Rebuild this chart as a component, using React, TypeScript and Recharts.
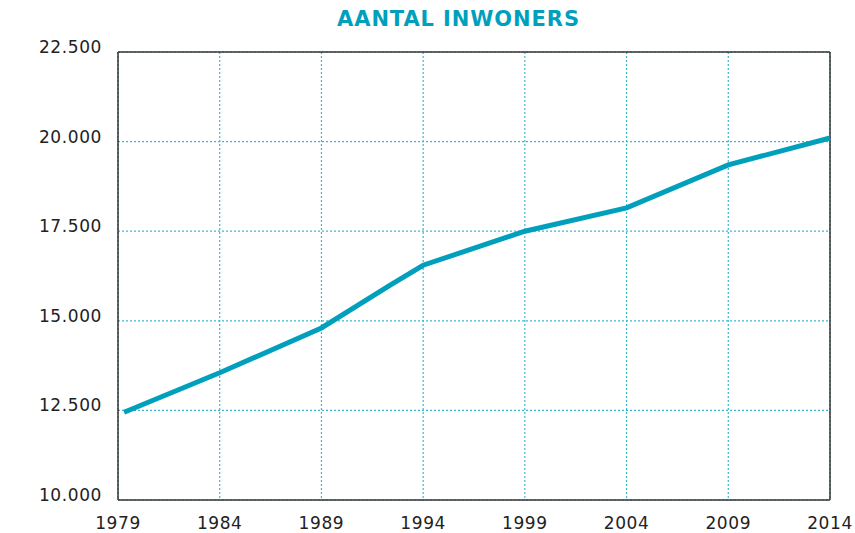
import React from "react";
import {
    LineChart,
    Line,
    XAxis,
    YAxis,
    CartesianGrid,
    ReferenceLine,
} from "recharts";

// jaren + aantal inwoners
const years = [1979.3, 1984, 1989, 1992.4, 1994, 1999, 2004, 2009, 2014];
const inhabitants = [12450, 13550, 14800, 16000, 16550, 17500, 18150, 19350, 20100];

const xTicks = [1979, 1984, 1989, 1994, 1999, 2004, 2009, 2014];
const yTicks = [10000, 12500, 15000, 17500, 20000, 22500];

const data = years.map((year, i) => ({ year, value: inhabitants[i] }));

const TEAL = "#00A0BD";
const GRID = "#3DB7CF";
const AXIS = "#333333";
const TITLE_FONT = "'DejaVu Sans', sans-serif";
const TICK_FONT = "'DejaVu Sans', sans-serif";

const formatThousands = (v: number) =>
    v.toLocaleString("nl-NL", { minimumFractionDigits: 0 }).replace(",", ".");

const App: React.FC = () => {
    return (
        <div style={{ position: "absolute", left: 0, top: 0, width: 855, height: 533, background: "#fff" }}>
            <div
                style={{
                    position: "absolute",
                    left: 0,
                    width: 855,
                    top: 7,
                    paddingLeft: 62,
                    boxSizing: "border-box",
                    textAlign: "center",
                    fontFamily: TITLE_FONT,
                    fontWeight: 700,
                    fontSize: 21,
                    color: TEAL,
                    letterSpacing: 0.9,
                }}
            >
                AANTAL INWONERS
            </div>
            <LineChart
                width={855}
                height={533}
                data={data}
                margin={{ top: 52, right: 25, bottom: 0, left: 0 }}
            >
                <CartesianGrid stroke={GRID} strokeDasharray="2 2" strokeWidth={1.2} />
                <XAxis
                    dataKey="year"
                    type="number"
                    domain={[1979, 2014]}
                    ticks={xTicks}
                    height={33}
                    tickLine={false}
                    axisLine={{ stroke: AXIS, strokeWidth: 1.5 }}
                    tickMargin={11}
                    tick={{ fill: "#222", fontSize: 17, fontFamily: TICK_FONT, letterSpacing: 0.6 }}
                    interval={0}
                />
                <YAxis
                    type="number"
                    domain={[10000, 22500]}
                    ticks={yTicks}
                    width={118}
                    tickLine={false}
                    axisLine={{ stroke: AXIS, strokeWidth: 1.5 }}
                    tickMargin={10}
                    tickFormatter={formatThousands}
                    tick={{ fill: "#222", fontSize: 17, fontFamily: TICK_FONT, letterSpacing: 0.6, dy: -5 }}
                    interval={0}
                />
                <ReferenceLine y={22500} stroke={AXIS} strokeWidth={1.5} />
                <ReferenceLine x={2014} stroke={AXIS} strokeWidth={1.5} />
                <Line
                    type="linear"
                    dataKey="value"
                    stroke={TEAL}
                    strokeWidth={5}
                    dot={false}
                    isAnimationActive={false}
                />
            </LineChart>
        </div>
    );
};

export default App;
